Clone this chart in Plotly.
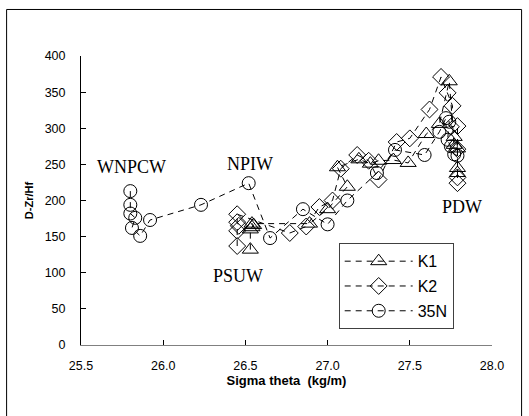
import plotly.graph_objects as go

# K1 (triangles)
k1_x = [26.53, 26.53, 26.54, 26.55, 26.54, 26.89, 27.00, 27.12, 27.06, 27.19, 27.26, 27.31,
        27.40, 27.49, 27.60, 27.68, 27.74, 27.77, 27.77, 27.79, 27.79, 27.79]
k1_y = [132, 160, 163, 166, 168, 168, 188, 219, 246, 257, 251, 255,
        256, 252, 292, 306, 365, 288, 277, 272, 245, 238]

# K2 (diamonds)
k2_x = [26.45, 26.45, 26.46, 26.45, 26.45, 26.77, 26.87, 26.95, 27.03, 27.08, 27.18, 27.25,
        27.31, 27.42, 27.50, 27.62, 27.69, 27.73, 27.76, 27.75, 27.79, 27.79, 27.79, 27.79]
k2_y = [137, 158, 165, 170, 181, 155, 164, 191, 200, 244, 263, 255,
        229, 281, 286, 326, 371, 349, 331, 302, 303, 271, 232, 224]

# 35N (circles)
n35_x = [25.80, 25.80, 25.80, 25.83, 25.81, 25.86, 25.92, 26.23, 26.52, 26.65, 26.85, 27.00,
         27.12, 27.30, 27.41, 27.59, 27.68, 27.72, 27.74, 27.73, 27.75, 27.77, 27.79]
n35_y = [213, 194, 182, 176, 162, 151, 173, 194, 224, 148, 188, 167,
         200, 238, 270, 263, 295, 314, 309, 284, 275, 264, 262]

labels = ["WNPCW", "NPIW", "PSUW", "PDW"]
label_x = [25.81, 26.525, 26.453, 27.815]
label_y = [247, 250, 96, 191]

x_ticks = [25.5, 26.0, 26.5, 27.0, 27.5, 28.0]
x_tick_text = ["25.5", "26.0", "26.5", "27.0", "27.5", "28.0"]
y_ticks = [0, 50, 100, 150, 200, 250, 300, 350, 400]

fig = go.Figure()
series = [
    ("K1", k1_x, k1_y, "triangle-up-open", 14),
    ("K2", k2_x, k2_y, "diamond-open", 13),
    ("35N", n35_x, n35_y, "circle-open", 13),
]
for name, xs, ys, sym, sz in series:
    fig.add_trace(go.Scatter(
        x=xs, y=ys, name=name, mode="lines+markers", legendgroup=name,
        line=dict(color="black", width=1, dash="6px,5px"),
        marker=dict(symbol=sym, size=sz, color="black", line=dict(width=1, color="black")),
    ))

for t, lx, ly in zip(labels, label_x, label_y):
    fig.add_annotation(x=lx, y=ly, text=t, showarrow=False,
                       font=dict(family="Liberation Serif, Times New Roman, serif", size=18, color="black"))

fig.add_shape(type="rect", xref="paper", yref="paper", x0=-0.181, x1=1.072, y0=-0.3, y1=1.161,
              line=dict(color="black", width=1), fillcolor="rgba(0,0,0,0)", layer="below")

fig.update_layout(
    width=529, height=416,
    margin=dict(l=81, r=37, t=56, b=71),
    paper_bgcolor="white", plot_bgcolor="white",
    font=dict(family="Liberation Sans, Arial, sans-serif", color="black"),
    showlegend=True,
    legend=dict(x=0.627, y=0.352, xanchor="left", yanchor="top",
                bordercolor="#404040", borderwidth=1, bgcolor="white",
                font=dict(size=16, family="Liberation Sans, Arial, sans-serif"),
                itemwidth=68, tracegroupgap=1),
    xaxis=dict(range=[25.5, 28.0], tickvals=x_ticks, ticktext=x_tick_text,
               showgrid=False, zeroline=False, showline=True, linecolor="#808080", linewidth=1,
               ticks="inside", ticklen=5, tickcolor="black", tickfont=dict(size=12.5),
               ticklabelstandoff=9,
               title=dict(text="<b>Sigma theta  (kg/m)</b>", font=dict(size=13), standoff=3)),
    yaxis=dict(range=[0, 400], tickvals=y_ticks,
               showgrid=False, zeroline=False, showline=True, linecolor="black", linewidth=1,
               ticks="inside", ticklen=5, tickcolor="black", tickfont=dict(size=12.5),
               ticklabelstandoff=12,
               title=dict(text="<b>D-Zr/Hf</b>", font=dict(size=11), standoff=8)),
)

fig.write_html("out.html", config={"displayModeBar": False},
               post_script="document.body.style.margin='0px';")
